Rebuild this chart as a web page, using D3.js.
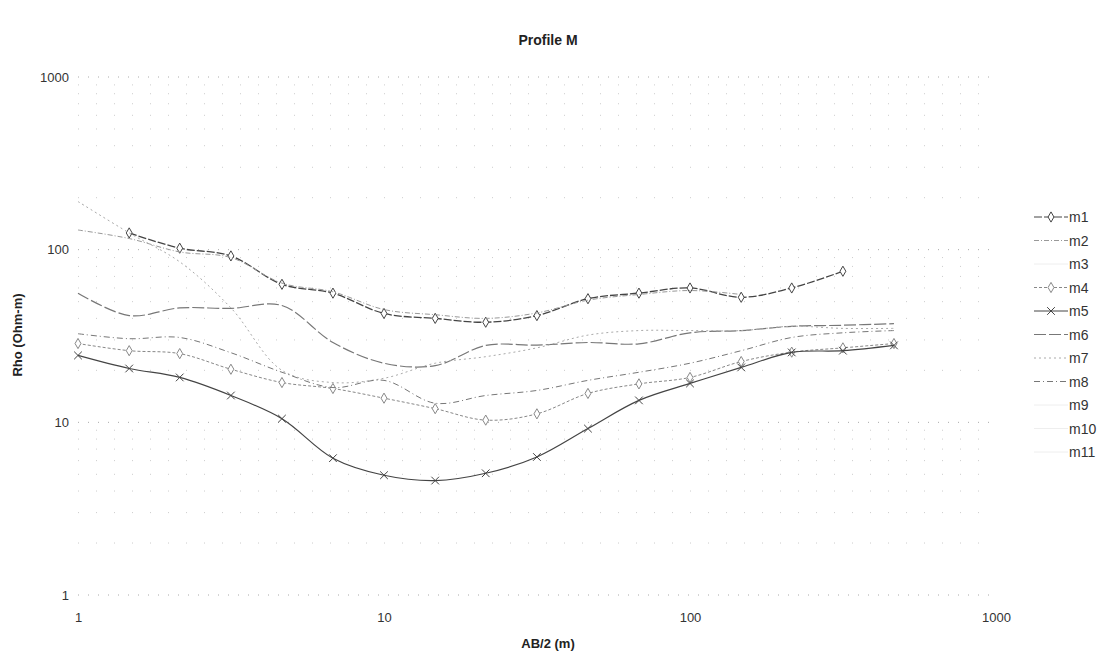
<!DOCTYPE html>
<html lang="en">
<head>
<meta charset="UTF-8">
<title>Profile M</title>
<style>
  body { margin: 0; background: #fff; font-family: "Liberation Sans", Arial, sans-serif; }
  .title { font-size: 14px; font-weight: bold; text-anchor: middle; fill: #222; }
  .axis-title { font-size: 13px; font-weight: bold; fill: #222; }
  .tick text { font-size: 13px; fill: #333; font-family: "Liberation Sans", Arial, sans-serif; }
  .legend text { font-size: 14px; fill: #333; }
</style>
</head>
<body>
<div id="chart"></div>
<script src="https://cdn.jsdelivr.net/npm/d3@7/dist/d3.min.js"></script>
<script>
// AB/2 spacing (m)
const abHalf = [1, 1.47, 2.15, 3.16, 4.64, 6.81, 10, 14.7, 21.5, 31.6, 46.4, 68.1, 100, 147, 215, 316, 464];

// apparent resistivity per sounding (Ohm-m)
const m1 = [null, 125, 102, 92, 63, 56, 42.7, 40, 38, 41.5, 52, 56, 60, 53, 60, 75];
const m2 = [130, 116, 97, 90, 64, 57, 45, 42, 40, 43, 51, 55, 58, 55];
const m4 = [28.6, 26, 25, 20.3, 17, 15.7, 13.8, 12.0, 10.3, 11.2, 14.7, 16.7, 18.2, 22.5, 25.5, 27, 28.6];
const m5 = [24.4, 20.5, 18.2, 14.3, 10.5, 6.2, 4.94, 4.6, 5.07, 6.3, 9.2, 13.4, 16.8, 20.8, 25.4, 26, 27.9];
const m6 = [56, 41.5, 46, 45.7, 47.5, 29, 22, 21.3, 27.9, 28, 29, 28.5, 33, 34, 36, 36.5, 37.3];
const m7 = [190, 125, 85, 46, 20, 17, 18, 22, 24, 27, 32, 34, 34, 34, 36, 35, 35];
const m8 = [32.6, 30.5, 31, 25.3, 19.5, 15.9, 17.5, 12.9, 14.3, 15.3, 17.5, 19.5, 22, 26, 31, 33, 34];

const seriesNames = ["m1", "m2", "m3", "m4", "m5", "m6", "m7", "m8", "m9", "m10", "m11"];
const seriesValues = { m1, m2, m3: [], m4, m5, m6, m7, m8, m9: [], m10: [], m11: [] };

const xTicks = [1, 10, 100, 1000];
const yTicks = [1, 10, 100, 1000];

const styles = {
  m1: { color: "#444", width: 1.3, dash: "8,2", marker: "diamond" },
  m2: { color: "#999", width: 1, dash: "5,2,1,2", marker: null },
  m3: { color: "#eee", width: 1, dash: null, marker: null },
  m4: { color: "#888", width: 1, dash: "3,2", marker: "diamond" },
  m5: { color: "#444", width: 1.2, dash: null, marker: "x" },
  m6: { color: "#777", width: 1.2, dash: "12,3", marker: null },
  m7: { color: "#aaa", width: 1, dash: "2,3", marker: null },
  m8: { color: "#777", width: 1, dash: "6,3,1,3", marker: null },
  m9: { color: "#eee", width: 1, dash: null, marker: null },
  m10: { color: "#eee", width: 1, dash: null, marker: null },
  m11: { color: "#eee", width: 1, dash: null, marker: null }
};

const W = 1102, H = 655;
const x = d3.scaleLog().domain([1, 1000]).range([78, 996]);
const y = d3.scaleLog().domain([1, 1000]).range([595, 77]);

const svg = d3.select("#chart").append("svg")
  .attr("width", W).attr("height", H);

// faint dotted grid rows (major + minor decades)
const gridVals = [];
[1, 10, 100].forEach(dec => {
  for (let i = 1; i < 10; i++) gridVals.push(dec * i);
});
gridVals.push(1000);
svg.append("g").selectAll("line")
  .data(gridVals)
  .join("line")
  .attr("x1", x(1)).attr("x2", x(1000))
  .attr("y1", d => y(d)).attr("y2", d => y(d))
  .attr("stroke", d => xTicks.includes(d) ? "#aaa" : "#ccc")
  .attr("stroke-width", 1)
  .attr("stroke-dasharray", d => xTicks.includes(d) ? "1,9" : "1,17");

// axes (no domain lines, labels only)
const xAxis = svg.append("g")
  .attr("transform", `translate(0,${y(1)})`)
  .call(d3.axisBottom(x).tickValues(xTicks).tickFormat(d3.format("d")).tickSize(0).tickPadding(18));
xAxis.select(".domain").remove();

const yAxis = svg.append("g")
  .attr("transform", `translate(${x(1)},0)`)
  .call(d3.axisLeft(y).tickValues(yTicks).tickFormat(d3.format("d")).tickSize(0).tickPadding(9));
yAxis.select(".domain").remove();

// curves
const line = d3.line()
  .defined(d => d.v != null)
  .x(d => x(d.x))
  .y(d => y(d.v))
  .curve(d3.curveCatmullRom.alpha(0.5));

const plot = svg.append("g");
seriesNames.forEach(name => {
  const vals = seriesValues[name];
  if (!vals.length) return;
  const pts = vals.map((v, i) => ({ x: abHalf[i], v })).filter(d => d.v != null);
  const st = styles[name];
  plot.append("path")
    .datum(pts)
    .attr("fill", "none")
    .attr("stroke", st.color)
    .attr("stroke-width", st.width)
    .attr("stroke-dasharray", st.dash)
    .attr("d", line);
  if (st.marker) {
    const sym = d3.symbol()
      .type(st.marker === "x" ? d3.symbolX : d3.symbolDiamond)
      .size(st.marker === "x" ? 40 : 30);
    plot.append("g").selectAll("path")
      .data(pts)
      .join("path")
      .attr("transform", d => `translate(${x(d.x)},${y(d.v)})`)
      .attr("d", sym)
      .attr("fill", st.marker === "x" ? "none" : "#fff")
      .attr("stroke", st.color)
      .attr("stroke-width", 1);
  }
});

// legend
const legend = svg.append("g").attr("class", "legend");
seriesNames.forEach((name, i) => {
  const st = styles[name];
  const ly = 217 + i * 23.5;
  const row = legend.append("g");
  row.append("line")
    .attr("x1", 1034).attr("x2", 1068)
    .attr("y1", ly).attr("y2", ly)
    .attr("stroke", st.color)
    .attr("stroke-width", 1)
    .attr("stroke-dasharray", st.dash);
  if (st.marker) {
    row.append("path")
      .attr("transform", `translate(1051,${ly})`)
      .attr("d", d3.symbol().type(st.marker === "x" ? d3.symbolX : d3.symbolDiamond).size(st.marker === "x" ? 40 : 30))
      .attr("fill", st.marker === "x" ? "none" : "#fff")
      .attr("stroke", st.color);
  }
  row.append("text")
    .attr("x", 1069).attr("y", ly + 5)
    .text(name);
});

// titles
svg.append("text").attr("class", "title")
  .attr("x", 548).attr("y", 45).text("Profile M");
svg.append("text").attr("class", "axis-title")
  .attr("x", 548).attr("y", 648).attr("text-anchor", "middle").text("AB/2 (m)");
svg.append("text").attr("class", "axis-title")
  .attr("transform", "translate(22,335) rotate(-90)")
  .attr("text-anchor", "middle").text("Rho (Ohm-m)");
</script>
</body>
</html>
